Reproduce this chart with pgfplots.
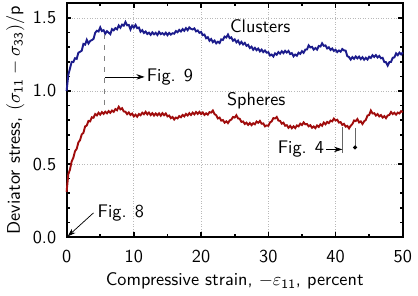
\documentclass[border=0pt]{standalone}
\usepackage{pgfplots}
\pgfplotsset{compat=1.18}
\usetikzlibrary{arrows.meta}

\definecolor{clusterblue}{RGB}{28,28,140}
\definecolor{spherered}{RGB}{160,12,12}

\begin{document}
\begin{tikzpicture}[font=\sffamily]
\begin{axis}[
  scale only axis,
  width=184.25pt, height=128.15pt,
  xmin=0, xmax=50, ymin=0, ymax=1.6,
  xtick={0,10,...,50},
  ytick={0,0.5,1.0,1.5},
  minor x tick num=1,
  minor y tick num=4,
  tick align=inside,
  major tick length=2.6pt,
  minor tick length=1.6pt,
  every tick/.style={black, line width=0.9pt},
  axis line style={line width=1.2pt},
  grid=major,
  major grid style={densely dotted, gray!55, line width=0.4pt},
  /pgf/number format/assume math mode=true,
  ticklabel style={font=\sffamily},
  yticklabel style={xshift=-2.2pt, /pgf/number format/.cd, fixed, fixed zerofill, precision=1},
  xticklabel style={yshift=-3.5pt},
  xlabel={Compressive strain, $-\varepsilon_{\mathsf{11}}$, percent},
  ylabel={Deviator stress, $(\sigma_{\mathsf{11}}-\sigma_{\mathsf{33}})/$p},
  xlabel style={yshift=1.5pt},
  ylabel style={yshift=-2.2pt},
  clip=false,
]
% Clusters
\addplot[clusterblue, line width=1.05pt] coordinates {
(0,1.00)(0.25,1.11)(0.5,1.154)(0.75,1.199)(1.0,1.198)(1.25,1.224)(1.5,1.22)(1.75,1.262)
(2.0,1.268)(2.25,1.276)(2.5,1.322)(2.75,1.317)(3.0,1.35)(3.25,1.325)(3.5,1.342)(3.75,1.348)
(4.0,1.356)(4.25,1.398)(4.5,1.412)(4.75,1.407)(5.0,1.435)(5.25,1.41)(5.5,1.416)(5.75,1.392)
(6.0,1.409)(6.25,1.399)(6.5,1.389)(6.75,1.423)(7.0,1.415)(7.25,1.43)(7.5,1.422)(7.75,1.448)
(8.0,1.433)(8.25,1.454)(8.5,1.447)(8.75,1.472)(9.0,1.449)(9.25,1.452)(9.5,1.421)(9.75,1.447)
(10.0,1.434)(10.25,1.452)(10.5,1.43)(10.75,1.434)(11.0,1.405)(11.25,1.416)(11.5,1.397)(11.75,1.407)
(12.0,1.39)(12.25,1.399)(12.5,1.384)(12.75,1.401)(13.0,1.388)(13.25,1.398)(13.5,1.383)(13.75,1.404)
(14.0,1.389)(14.25,1.396)(14.5,1.385)(14.75,1.399)(15.0,1.382)(15.25,1.397)(15.5,1.386)(15.75,1.395)
(16.0,1.392)(16.25,1.41)(16.5,1.402)(16.75,1.418)(17.0,1.407)(17.25,1.423)(17.5,1.412)(17.75,1.43)
(18.0,1.416)(18.25,1.435)(18.5,1.425)(18.75,1.421)(19.0,1.428)(19.25,1.408)(19.5,1.414)(19.75,1.398)
(20.0,1.404)(20.25,1.382)(20.5,1.386)(20.75,1.361)(21.0,1.368)(21.25,1.344)(21.5,1.355)(21.75,1.334)
(22.0,1.345)(22.25,1.326)(22.5,1.337)(22.75,1.328)(23.0,1.353)(23.25,1.349)(23.5,1.372)(23.75,1.366)
(24.0,1.386)(24.25,1.362)(24.5,1.367)(24.75,1.344)(25.0,1.353)(25.25,1.333)(25.5,1.345)(25.75,1.322)
(26.0,1.336)(26.25,1.318)(26.5,1.329)(26.75,1.309)(27.0,1.316)(27.25,1.294)(27.5,1.303)(27.75,1.282)
(28.0,1.295)(28.25,1.279)(28.5,1.29)(28.75,1.271)(29.0,1.283)(29.25,1.266)(29.5,1.277)(29.75,1.262)
(30.0,1.265)(30.25,1.243)(30.5,1.249)(30.75,1.236)(31.0,1.257)(31.25,1.248)(31.5,1.266)(31.75,1.255)
(32.0,1.272)(32.25,1.259)(32.5,1.275)(32.75,1.263)(33.0,1.274)(33.25,1.253)(33.5,1.259)(33.75,1.237)
(34.0,1.249)(34.25,1.241)(34.5,1.262)(34.75,1.254)(35.0,1.272)(35.25,1.261)(35.5,1.283)(35.75,1.284)
(36.0,1.312)(36.25,1.298)(36.5,1.302)(36.75,1.283)(37.0,1.294)(37.25,1.283)(37.5,1.308)(37.75,1.304)
(38.0,1.326)(38.25,1.309)(38.5,1.312)(38.75,1.291)(39.0,1.299)(39.25,1.281)(39.5,1.291)(39.75,1.274)
(40.0,1.282)(40.25,1.266)(40.5,1.277)(40.75,1.269)(41.0,1.287)(41.25,1.278)(41.5,1.276)(41.75,1.238)
(42.0,1.232)(42.25,1.215)(42.5,1.232)(42.75,1.22)(43.0,1.236)(43.25,1.223)(43.5,1.235)(43.75,1.218)
(44.0,1.231)(44.25,1.214)(44.5,1.227)(44.75,1.215)(45.0,1.234)(45.25,1.226)(45.5,1.245)(45.75,1.233)
(46.0,1.245)(46.25,1.229)(46.5,1.24)(46.75,1.224)(47.0,1.227)(47.25,1.198)(47.5,1.197)(47.75,1.174)
(48.0,1.197)(48.25,1.199)(48.5,1.227)(48.75,1.23)(49.0,1.257)(49.25,1.245)(49.5,1.262)(49.75,1.25)
(50.0,1.264)
};
% Spheres
\addplot[spherered, line width=1.05pt] coordinates {
(0,0.31)(0.25,0.43)(0.5,0.462)(0.75,0.518)(1.0,0.543)(1.25,0.588)(1.5,0.604)(1.75,0.648)
(2.0,0.664)(2.25,0.703)(2.5,0.714)(2.75,0.757)(3.0,0.764)(3.25,0.795)(3.5,0.792)(3.75,0.82)
(4.0,0.817)(4.25,0.842)(4.5,0.833)(4.75,0.851)(5.0,0.838)(5.25,0.855)(5.5,0.843)(5.75,0.858)
(6.0,0.847)(6.25,0.862)(6.5,0.851)(6.75,0.866)(7.0,0.857)(7.25,0.876)(7.5,0.868)(7.75,0.892)
(8.0,0.874)(8.25,0.882)(8.5,0.86)(8.75,0.858)(9.0,0.841)(9.25,0.853)(9.5,0.836)(9.75,0.845)
(10.0,0.826)(10.25,0.838)(10.5,0.824)(10.75,0.842)(11.0,0.834)(11.25,0.851)(11.5,0.841)(11.75,0.857)
(12.0,0.84)(12.25,0.852)(12.5,0.835)(12.75,0.848)(13.0,0.832)(13.25,0.846)(13.5,0.833)(13.75,0.847)
(14.0,0.831)(14.25,0.848)(14.5,0.834)(14.75,0.846)(15.0,0.826)(15.25,0.832)(15.5,0.814)(15.75,0.822)
(16.0,0.805)(16.25,0.818)(16.5,0.812)(16.75,0.828)(17.0,0.82)(17.25,0.836)(17.5,0.826)(17.75,0.843)
(18.0,0.832)(18.25,0.848)(18.5,0.836)(18.75,0.852)(19.0,0.84)(19.25,0.856)(19.5,0.843)(19.75,0.857)
(20.0,0.842)(20.25,0.853)(20.5,0.836)(20.75,0.847)(21.0,0.838)(21.25,0.855)(21.5,0.852)(21.75,0.866)
(22.0,0.842)(22.25,0.834)(22.5,0.812)(22.75,0.818)(23.0,0.797)(23.25,0.801)(23.5,0.783)(23.75,0.792)
(24.0,0.78)(24.25,0.798)(24.5,0.804)(24.75,0.822)(25.0,0.818)(25.25,0.834)(25.5,0.812)(25.75,0.81)
(26.0,0.788)(26.25,0.791)(26.5,0.774)(26.75,0.783)(27.0,0.768)(27.25,0.781)(27.5,0.766)(27.75,0.779)
(28.0,0.772)(28.25,0.791)(28.5,0.782)(28.75,0.795)(29.0,0.776)(29.25,0.778)(29.5,0.758)(29.75,0.764)
(30.0,0.762)(30.25,0.785)(30.5,0.792)(30.75,0.814)(31.0,0.812)(31.25,0.822)(31.5,0.798)(31.75,0.795)
(32.0,0.776)(32.25,0.783)(32.5,0.762)(32.75,0.766)(33.0,0.748)(33.25,0.761)(33.5,0.745)(33.75,0.758)
(34.0,0.746)(34.25,0.764)(34.5,0.758)(34.75,0.776)(35.0,0.767)(35.25,0.785)(35.5,0.772)(35.75,0.774)
(36.0,0.758)(36.25,0.766)(36.5,0.748)(36.75,0.757)(37.0,0.746)(37.25,0.764)(37.5,0.754)(37.75,0.772)
(38.0,0.762)(38.25,0.784)(38.5,0.772)(38.75,0.788)(39.0,0.78)(39.25,0.797)(39.5,0.792)(39.75,0.811)
(40.0,0.798)(40.25,0.803)(40.5,0.784)(40.75,0.787)(41.0,0.768)(41.25,0.775)(41.5,0.756)(41.75,0.761)
(42.0,0.744)(42.25,0.762)(42.5,0.774)(42.75,0.798)(43.0,0.794)(43.25,0.808)(43.5,0.785)(43.75,0.792)
(44.0,0.774)(44.25,0.792)(44.5,0.802)(44.75,0.832)(45.0,0.836)(45.25,0.866)(45.5,0.846)(45.75,0.848)
(46.0,0.832)(46.25,0.842)(46.5,0.826)(46.75,0.835)(47.0,0.818)(47.25,0.828)(47.5,0.814)(47.75,0.832)
(48.0,0.836)(48.25,0.856)(48.5,0.842)(48.75,0.851)(49.0,0.838)(49.25,0.852)(49.5,0.846)(49.75,0.862)
(50.0,0.856)
};
% curve labels
\node at (axis cs:28.8,1.445) {Clusters};
\node at (axis cs:28.2,0.93) {Spheres};
% Fig. 9 pointer
\draw[gray, dashed, line width=0.6pt] (axis cs:5.7,1.39) -- (axis cs:5.7,0.88);
\draw[-{Stealth[length=4.5pt,width=3pt]}, line width=0.4pt] (axis cs:5.7,1.096) -- (axis cs:11.6,1.096)
  node[anchor=west, inner sep=1pt] {Fig. 9};
% Fig. 8 pointer
\draw[-{Stealth[length=4.5pt,width=3pt]}, line width=0.4pt] (axis cs:4.0,0.166) -- (axis cs:0.15,0.005);
\node[anchor=west, inner sep=1pt] at (axis cs:4.3,0.167) {Fig. 8};
% Fig. 4 pointers
\draw[gray!80!black, line width=0.5pt] (axis cs:41.0,0.575) -- (axis cs:41.0,0.755);
\draw[gray!80!black, line width=0.5pt, {Circle[length=2.2pt,black]}-] (axis cs:42.9,0.60) -- (axis cs:42.9,0.745);
\draw[-{Stealth[length=4.5pt,width=3pt]}, line width=0.4pt] (axis cs:38.6,0.60) -- (axis cs:41.0,0.60);
\node[anchor=east, inner sep=1pt] at (axis cs:38.6,0.60) {Fig. 4};
\end{axis}
\end{tikzpicture}
\end{document}
